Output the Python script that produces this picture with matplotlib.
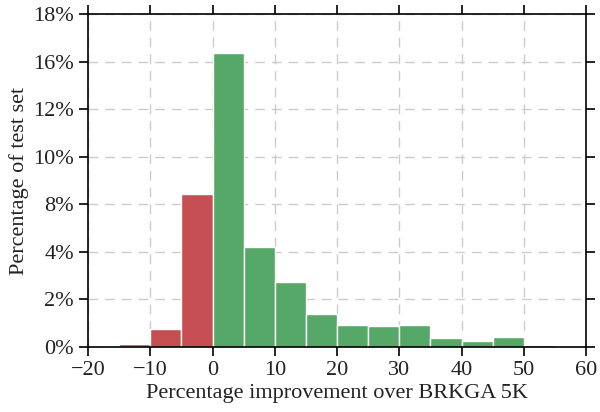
import numpy as np
import matplotlib
matplotlib.use("Agg")
import matplotlib.pyplot as plt

plt.rcParams['font.family'] = ['Liberation Serif', 'DejaVu Serif']
plt.rcParams['mathtext.fontset'] = 'stix'

# bin edges (percentage improvement) and heights (in y-axis units)
bin_edges = [-15, -10, -5, 0, 5, 10, 15, 20, 25, 30, 35, 40, 45, 50, 55]
heights = [0.16, 0.97, 8.27, 15.9, 5.4, 3.5, 1.78, 1.2, 1.14, 1.2, 0.5, 0.32, 0.55, 0.13]
ytick_labels = ['0%', '2%', '4%', '8%', '10%', '12%', '16%', '18%']
xticks = [-20, -10, 0, 10, 20, 30, 40, 50, 60]

red = '#c44e52'
green = '#55a868'

fig = plt.figure(figsize=(6, 4.12), dpi=100)
ax = fig.add_axes([88 / 600, 1 - 347 / 412, 498 / 600, 333 / 412])

lefts = np.array(bin_edges[:-1])
widths = np.diff(bin_edges)
colors = [red if l < 0 else green for l in lefts]
ax.bar(lefts, heights, width=widths, align='edge', color=colors,
       edgecolor='white', linewidth=1.0, zorder=2)

ax.set_xlim(-20, 60)
ax.set_ylim(0, 18)
ax.set_xticks(xticks)
yt = np.linspace(0, 18, len(ytick_labels))
ax.set_yticks(yt)
ax.set_yticklabels(ytick_labels)

ax.grid(True, linestyle=(0, (7, 5)), color='#cccccc', linewidth=1, zorder=0)
ax.set_axisbelow(True)

for s in ax.spines.values():
    s.set_linewidth(1.2)
    s.set_color('black')
ax.tick_params(direction='out', length=6.5, width=1.2, labelsize=16,
               top=True, right=True, labeltop=False, labelright=False,
               labelcolor='#222222', color='black')

ax.set_xlabel('Percentage improvement over BRKGA 5K', fontsize=16, color='#222222', labelpad=3)
ax.set_ylabel('Percentage of test set', fontsize=16, color='#222222', labelpad=3)

fig.savefig('out.png', dpi=100)
